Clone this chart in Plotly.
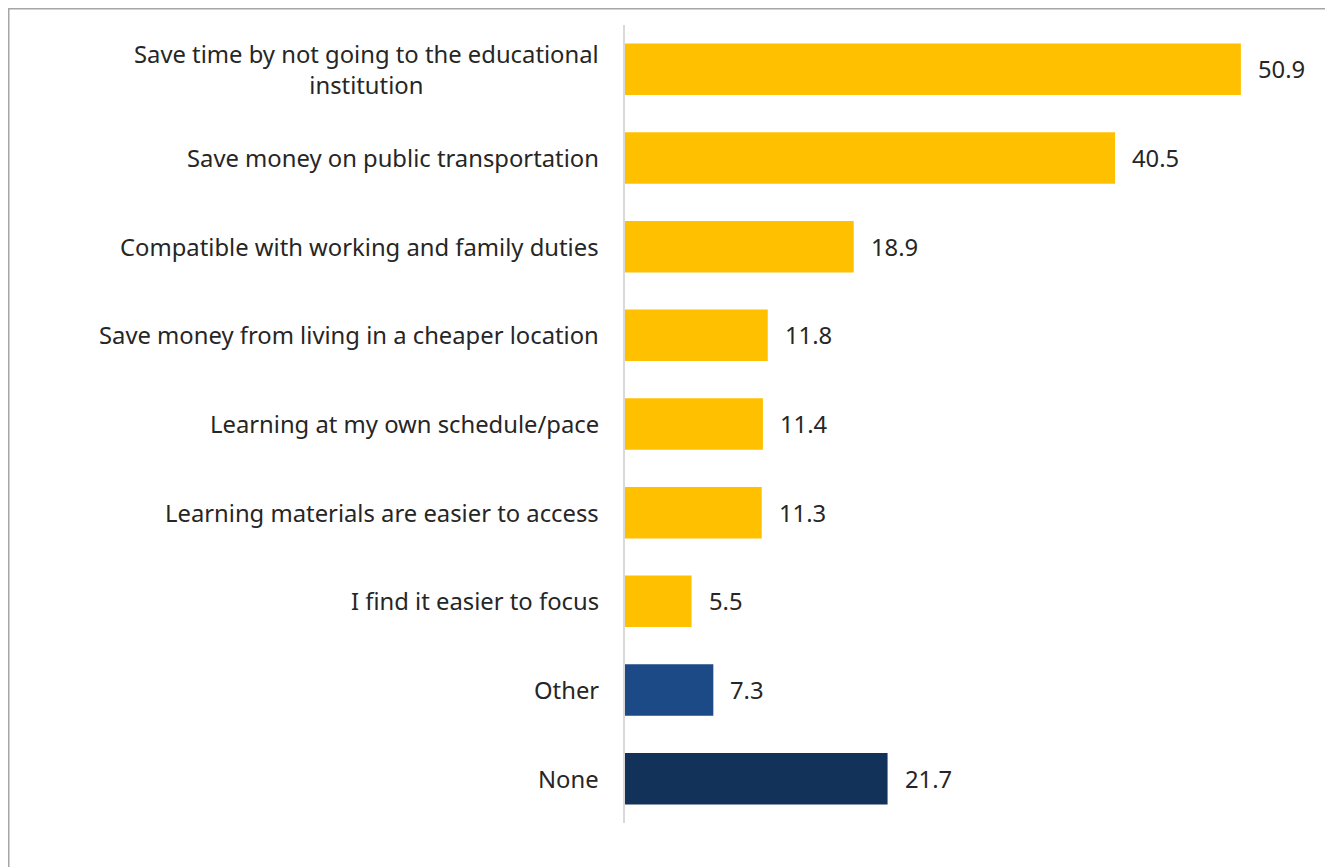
import plotly.graph_objects as go

categories = [
    "Save time by not going to the educational<br>institution",
    "Save money on public transportation",
    "Compatible with working and family duties",
    "Save money from living in a cheaper location",
    "Learning at my own schedule/pace",
    "Learning materials are easier to access",
    "I find it easier to focus",
    "Other",
    "None",
]
values = [50.9, 40.5, 18.9, 11.8, 11.4, 11.3, 5.5, 7.3, 21.7]
colors = ["#FFC000"] * 7 + ["#1C4A86", "#12325A"]

FONT = "Noto Sans"
TXT = "#262626"
FS = 23.8

fig = go.Figure(go.Bar(
    y=categories, x=values, orientation="h",
    marker=dict(color=colors, line=dict(width=0)),
    hoverinfo="skip",
))

annotations = []
for c, v in zip(categories, values):
    annotations.append(dict(
        x=0, y=c, xref="x", yref="y", text=c, showarrow=False,
        xanchor="right", align="center", xshift=-24,
        font=dict(family=FONT, size=FS, color=TXT),
    ))
    annotations.append(dict(
        x=v, y=c, xref="x", yref="y", text=f"{v:.1f}", showarrow=False,
        xanchor="left", xshift=15,
        font=dict(family=FONT, size=FS, color=TXT),
    ))

# page has an 8px body margin; figure coords = page coords - 8
W, H = 1325, 859
L, R, T, B = 617, 6, 17, 44
pw, ph = W - L - R, H - T - B

def px_x(p):
    return (p - L) / pw

def px_y(p):
    return (H - B - p) / ph

fig.update_layout(
    width=W, height=H,
    margin=dict(l=L, r=R, t=T, b=B),
    paper_bgcolor="white", plot_bgcolor="white",
    bargap=0.42,
    showlegend=False,
    xaxis=dict(range=[0, pw / 12.1], visible=False, fixedrange=True),
    yaxis=dict(autorange="reversed", showticklabels=False, ticks="",
               showline=True, linecolor="#D9D9D9", linewidth=2,
               showgrid=False, zeroline=False),
    annotations=annotations,
    shapes=[dict(type="rect", xref="paper", yref="paper",
                 x0=px_x(0.75), x1=px_x(1340), y0=px_y(880), y1=px_y(0.75),
                 line=dict(color="#A6A6A6", width=1.5), layer="below")],
)

fig.write_html("out.html")
